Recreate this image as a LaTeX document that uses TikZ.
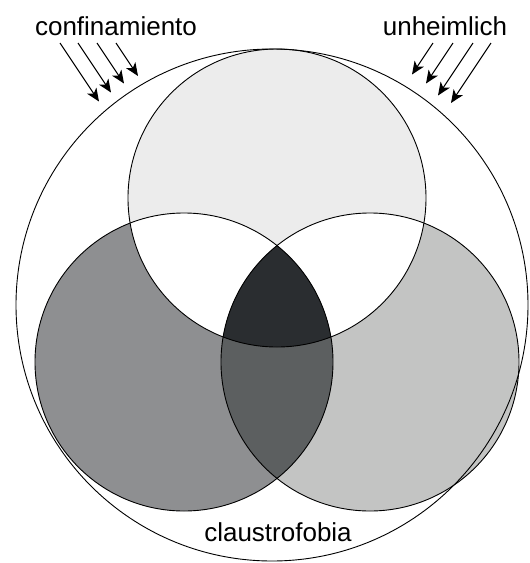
\documentclass[tikz,border=0pt]{standalone}
\usepackage{fontspec}
\setmainfont{Liberation Sans}
\usetikzlibrary{arrows.meta}
\definecolor{topgray}{HTML}{ECECEC}
\definecolor{leftgray}{HTML}{8E8F91}
\definecolor{rightgray}{HTML}{C3C4C3}
\definecolor{lrgray}{HTML}{5C5F60}
\definecolor{coregray}{HTML}{2A2D30}
\tikzset{
  ring/.style={draw=black, line width=0.9pt},
  ray/.style={line width=1pt, -{Stealth[length=13pt,width=11pt,inset=3.5pt]}},
  lbl/.style={font=\fontsize{26}{30}\selectfont, inner sep=0pt}
}
\begin{document}
\begin{tikzpicture}[x=1pt, y=-1pt]
    \useasboundingbox (0,0) rectangle (530,563);
    \coordinate (T) at (277,198);
    \coordinate (L) at (184,362);
    \coordinate (R) at (370,362);
    % fills
    \fill[topgray] (T) circle (149);
    \fill[leftgray] (L) circle (149);
    \fill[rightgray] (R) circle (149);
    \begin{scope}
        \clip (T) circle (149);
        \fill[white] (L) circle (149);
        \fill[white] (R) circle (149);
    \end{scope}
    \begin{scope}
        \clip (L) circle (149);
        \fill[lrgray] (R) circle (149);
        \clip (R) circle (149);
        \fill[coregray] (T) circle (149);
    \end{scope}
    % outlines
    \draw[ring] (272,305) circle (256);
    \draw[ring] (T) circle (149);
    \draw[ring] (L) circle (149);
    \draw[ring] (R) circle (149);
    % labels
    \node [lbl, anchor=base] (conf) at (116,35) {confinamiento};
    \node [lbl, anchor=base] (unhe) at (445,35) {unheimlich};
    \node [lbl, anchor=base] (clau) at (278,541) {claustrofobia};
    % arrows
    \foreach \sx/\ex [count=\i] in {60/99, 78/111, 97/124, 116/138} {
        \coordinate (cs\i) at (\sx,43);
        \coordinate (ce\i) at (\ex,{43+(\ex-\sx)*1.5});
        \draw[ray] (cs\i) -- (ce\i);
    }
    \foreach \sx/\ex [count=\i] in {433/412, 453/426, 473/438, 491/451} {
        \coordinate (us\i) at (\sx,43);
        \coordinate (ue\i) at (\ex,{43+(\sx-\ex)*1.5});
        \draw[ray] (us\i) -- (ue\i);
    }
\end{tikzpicture}
\end{document}
